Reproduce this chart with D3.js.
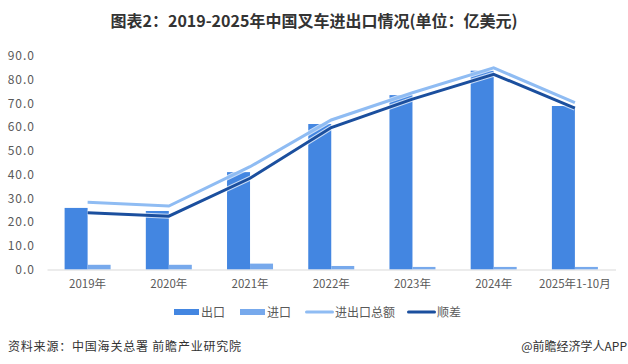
<!DOCTYPE html>
<html>
<head>
<meta charset="utf-8">
<script src="https://cdn.jsdelivr.net/npm/d3@7"></script>
<style>
  body { margin: 0; background: #fff; }
  svg text { font-family: "Noto Sans CJK SC", "Noto Sans", sans-serif; }
</style>
</head>
<body>
<div id="chart-area"></div>
<script>

// chart data (亿美元)
var years = ["2019年", "2020年", "2021年", "2022年", "2023年", "2024年", "2025年1-10月"];
var exportVals = [25.9, 24.6, 41.0, 61.3, 73.5, 83.8, 68.9];
var importVals = [1.9, 1.9, 2.4, 1.4, 1.0, 1.0, 1.0];
var totalVals = [28.3, 26.7, 43.3, 63.0, 74.5, 85.0, 70.3];
var surplusVals = [23.9, 22.4, 38.4, 59.8, 71.8, 82.3, 68.0];
var yTicks = [0, 10, 20, 30, 40, 50, 60, 70, 80, 90];

var colors = {
	exp: "#4386e1",
	imp: "#77a9ec",
	total: "#8fbcf3",
	surplus: "#1b4f9e"
};

var W = 628, H = 364;

var svg = d3.select("#chart-area").append("svg")
	.attr("width", W)
	.attr("height", H);

// title
svg.append("text")
	.attr("x", 314)
	.attr("y", 27)
	.attr("text-anchor", "middle")
	.style("font-size", "16px")
	.style("font-weight", "bold")
	.attr("fill", "#333")
	.text("图表2：2019-2025年中国叉车进出口情况(单位：亿美元)");

var x = d3.scaleBand()
	.domain(years)
	.range([47, 615.5]);

var y = d3.scaleLinear()
	.domain([0, 90])
	.range([269.3, 56]);

var barW = 23;

// y axis labels (no line)
var yAxis = d3.axisLeft(y)
	.tickValues(yTicks)
	.tickSize(0)
	.tickPadding(0)
	.tickFormat(d3.format(".1f"));

var gy = svg.append("g")
	.attr("transform", "translate(35,0)")
	.call(yAxis);
gy.select(".domain").remove();
gy.selectAll("text")
	.style("font-size", "12px")
	.style("letter-spacing", "1px")
	.attr("fill", "#595959");

// x axis
var xAxis = d3.axisBottom(x)
	.tickSize(0)
	.tickPadding(10);

var gx = svg.append("g")
	.attr("transform", "translate(0,269.5)")
	.call(xAxis);
gx.select(".domain").attr("stroke", "#d9d9d9");
gx.selectAll("text")
	.style("font-size", "11.5px")
	.attr("fill", "#595959");

// bars
function center(d) { return x(d) + x.bandwidth() / 2; }

svg.selectAll(".bar-exp")
	.data(years)
	.enter().append("rect")
	.attr("class", "bar-exp")
	.attr("x", function(d) { return center(d) - barW; })
	.attr("y", function(d, i) { return y(exportVals[i]); })
	.attr("width", barW)
	.attr("height", function(d, i) { return y(0) - y(exportVals[i]); })
	.attr("fill", colors.exp);

svg.selectAll(".bar-imp")
	.data(years)
	.enter().append("rect")
	.attr("class", "bar-imp")
	.attr("x", function(d) { return center(d); })
	.attr("y", function(d, i) { return y(importVals[i]); })
	.attr("width", barW)
	.attr("height", function(d, i) { return y(0) - y(importVals[i]); })
	.attr("fill", colors.imp);

// lines
var line = d3.line()
	.x(function(d, i) { return center(years[i]); })
	.y(function(d) { return y(d); });

[[totalVals, colors.total], [surplusVals, colors.surplus]].forEach(function(s) {
	svg.append("path")
		.datum(s[0])
		.attr("d", line)
		.attr("fill", "none")
		.attr("stroke", "#fff")
		.attr("stroke-opacity", 0.7)
		.attr("stroke-width", 5);
	svg.append("path")
		.datum(s[0])
		.attr("d", line)
		.attr("fill", "none")
		.attr("stroke", s[1])
		.attr("stroke-width", 3);
});

// legend
var legend = [
	{name: "出口", type: "bar", color: colors.exp, x: 174},
	{name: "进口", type: "bar", color: colors.imp, x: 240},
	{name: "进出口总额", type: "line", color: colors.total, x: 305},
	{name: "顺差", type: "line", color: colors.surplus, x: 407}
];

var lg = svg.selectAll(".legend")
	.data(legend)
	.enter().append("g")
	.attr("class", "legend")
	.attr("transform", function(d) { return "translate(" + d.x + ",312)"; });

lg.append("rect")
	.attr("x", 0)
	.attr("y", function(d) { return d.type === "bar" ? -3 : -1.5; })
	.attr("width", function(d) { return d.type === "bar" ? 25 : 29; })
	.attr("height", function(d) { return d.type === "bar" ? 6 : 3; })
	.attr("rx", function(d) { return d.type === "bar" ? 0 : 1.5; })
	.attr("fill", function(d) { return d.color; });

lg.append("text")
	.attr("x", function(d) { return d.type === "bar" ? 27 : 30; })
	.attr("y", 4.5)
	.style("font-size", "12px")
	.attr("fill", "#595959")
	.text(function(d) { return d.name; });

// footer
svg.append("text")
	.attr("x", 8)
	.attr("y", 351)
	.style("font-size", "12px")
	.style("letter-spacing", "0.8px")
	.attr("fill", "#333")
	.text("资料来源：中国海关总署 前瞻产业研究院");

svg.append("text")
	.attr("x", 627)
	.attr("y", 351)
	.attr("text-anchor", "end")
	.style("font-size", "12px")
	.attr("fill", "#333")
	.text("@前瞻经济学人APP");

</script>
</body>
</html>
